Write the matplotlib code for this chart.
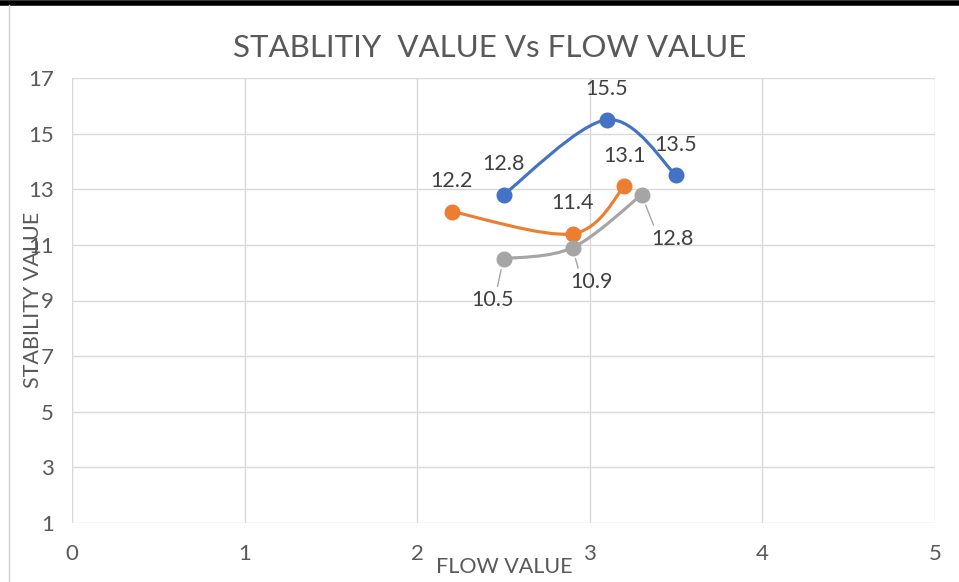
import numpy as np
import matplotlib
matplotlib.use("Agg")
from matplotlib import pyplot as plt
from matplotlib.path import Path
from matplotlib.patches import PathPatch
from matplotlib.lines import Line2D

plt.rcParams['font.family'] = ['Lato', 'DejaVu Sans']

# data
blue_x = [2.5, 3.1, 3.5]
blue_y = [12.8, 15.5, 13.5]
orange_x = [2.2, 2.9, 3.2]
orange_y = [12.2, 11.4, 13.1]
gray_x = [2.5, 2.9, 3.3]
gray_y = [10.5, 10.9, 12.8]

x_ticks = [0, 1, 2, 3, 4, 5]
y_ticks = [1, 3, 5, 7, 9, 11, 13, 15, 17]

BLUE = '#4472C4'
ORANGE = '#ED7D31'
GRAY = '#A5A5A5'
TXT = '#595959'
LBL = '#404040'


def smooth_path(xs, ys):
    # catmull-rom style bezier, like excel "smoothed line"
    pts = np.column_stack([xs, ys]).astype(float)
    n = len(pts)
    verts = [pts[0]]
    codes = [Path.MOVETO]
    for i in range(n - 1):
        p0 = pts[i - 1] if i > 0 else pts[i]
        p1 = pts[i]
        p2 = pts[i + 1]
        p3 = pts[i + 2] if i + 2 < n else pts[i + 1]
        c1 = p1 + (p2 - p0) / 6.0
        c2 = p2 - (p3 - p1) / 6.0
        verts += [c1, c2, p2]
        codes += [Path.CURVE4] * 3
    return Path(verts, codes)


fig = plt.figure(figsize=(9.59, 5.82), dpi=100)
ax = fig.add_axes([72 / 959, 59 / 582, 863 / 959, 445 / 582])

for xs, ys, c in [(blue_x, blue_y, BLUE), (orange_x, orange_y, ORANGE), (gray_x, gray_y, GRAY)]:
    ax.add_patch(PathPatch(smooth_path(xs, ys), facecolor='none', edgecolor=c,
                           lw=2.25, capstyle='round', zorder=3))
    ax.plot(xs, ys, 'o', color=c, markersize=10.5, zorder=4)

# data labels
lab = dict(fontsize=15.5, color=LBL, ha='center', va='center',
           textcoords='offset points', zorder=5)
for xs, ys in [(blue_x, blue_y), (orange_x, orange_y)]:
    for x, y in zip(xs, ys):
        ax.annotate(f'{y}', xy=(x, y), xytext=(0, 22), **lab)

gray_offsets = [(-8, -30), (14, -25), (22, -32)]
gray_rel = [(0.6, 1.0), (0.2, 1.0), (0.1, 1.0)]
for x, y, off, rp in zip(gray_x, gray_y, gray_offsets, gray_rel):
    ax.annotate(f'{y}', xy=(x, y), xytext=off,
                arrowprops=dict(arrowstyle='-', color=GRAY, lw=1.0,
                                shrinkA=1, shrinkB=8, relpos=rp), **lab)

ax.set_xlim(0, 5)
ax.set_ylim(1, 17)
ax.set_xticks(x_ticks)
ax.set_yticks(y_ticks)
ax.grid(True, color='#D9D9D9', lw=1.0)
ax.set_axisbelow(True)
for s in ax.spines.values():
    s.set_visible(False)
ax.tick_params(length=0, labelsize=16, labelcolor=TXT)
ax.tick_params(axis='y', pad=13)
ax.tick_params(axis='x', pad=15)

fig.text(33 / 959, 1 - 300 / 582, 'STABILITY VALUE', rotation=90, fontsize=15.5,
         color=TXT, ha='center', va='center')
fig.text(504 / 959, 1 - 567 / 582, 'FLOW VALUE', fontsize=15.5, color=TXT,
         ha='center', va='center')
fig.text(490 / 959, 1 - 48 / 582, 'STABLITIY  VALUE Vs FLOW VALUE', fontsize=22.5,
         color=TXT, ha='center', va='center')

# frame bits from the screenshot
fig.add_artist(Line2D([0, 1], [1 - 2.5 / 582] * 2, color='black', lw=4))
fig.add_artist(Line2D([9 / 959] * 2, [0, 1 - 5 / 582], color='#D0D0D0', lw=1))

fig.savefig('out.png', dpi=100)
